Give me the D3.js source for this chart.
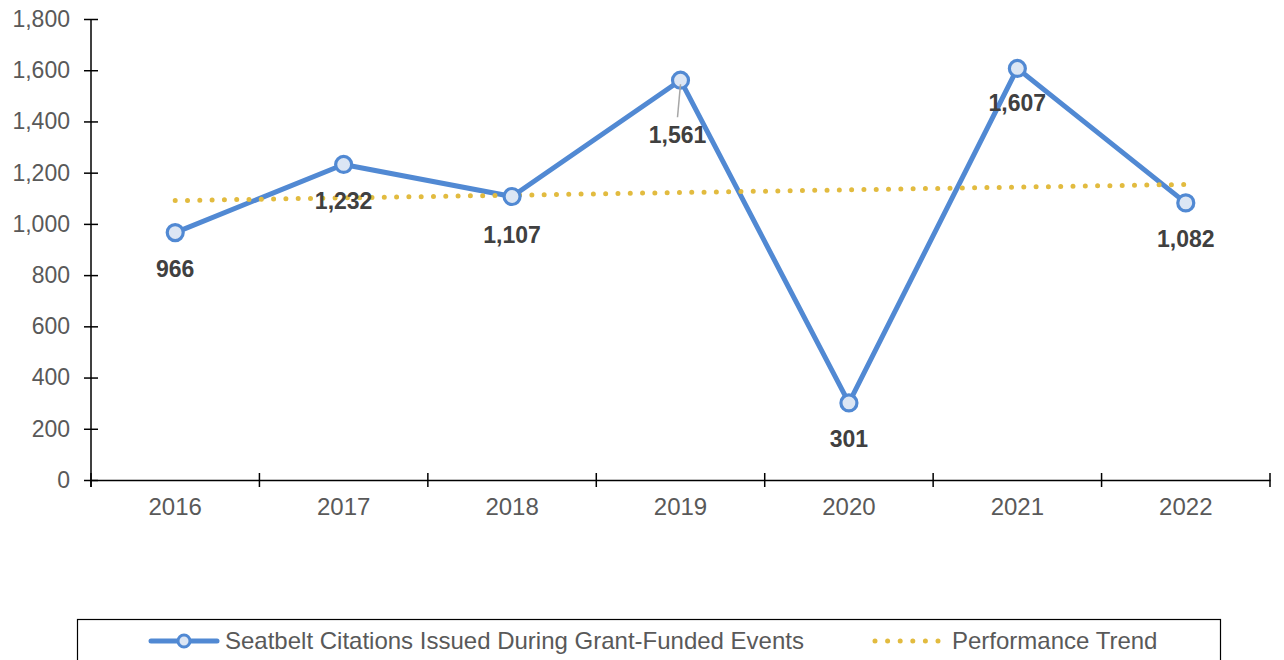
<!DOCTYPE html>
<html>
<head>
<meta charset="utf-8">
<script src="https://cdn.jsdelivr.net/npm/d3@7"></script>
<style>
  body { margin: 0; background: #fff; }
  svg { font-family: "Liberation Sans", Arial, sans-serif; }
</style>
</head>
<body>
<svg id="chart" width="1284" height="660"></svg>
<script>
var years = ["2016", "2017", "2018", "2019", "2020", "2021", "2022"];
var citations = [966, 1232, 1107, 1561, 301, 1607, 1082];
var trendEnds = [1091, 1154];
var yTicks = [0, 200, 400, 600, 800, 1000, 1200, 1400, 1600, 1800];
var seriesName = "Seatbelt Citations Issued During Grant-Funded Events";
var trendName = "Performance Trend";

var svg = d3.select("#chart"),
    margin = {top: 19, left: 91},
    width = 1270 - 91,
    height = 480 - 19,
    g = svg.append("g").attr("transform", "translate(" + margin.left + "," + margin.top + ")");

var blue = "#5189d3", fillBlue = "#dce6f4", gold = "#e2bb3f", grey = "#595959";

var x = d3.scaleBand().domain(years).range([0, width]);
var y = d3.scaleLinear().domain([0, 1800]).range([height, 0]);
var cx = function(i) { return x(years[i]) + x.bandwidth() / 2; };

// axes, ticks crossing the line
var yAxis = g.append("g")
    .call(d3.axisLeft(y).tickValues(yTicks).tickSize(7).tickPadding(14).tickFormat(d3.format(",")));
yAxis.selectAll(".tick line").attr("x2", 7).attr("x1", -7);
var xAxis = g.append("g")
    .attr("transform", "translate(0," + height + ")")
    .call(d3.axisBottom(x).tickSize(0).tickPadding(18));
xAxis.selectAll(".tick line").remove();
xAxis.selectAll(".xb").data(d3.range(years.length + 1)).enter().append("line")
    .attr("x1", function(i) { return i * x.bandwidth(); })
    .attr("x2", function(i) { return i * x.bandwidth(); })
    .attr("y1", -7).attr("y2", 7)
    .attr("stroke", "#000").attr("stroke-width", 1.5);
g.selectAll(".domain").attr("stroke", "#000").attr("stroke-width", 1.5);
g.selectAll(".tick line").attr("stroke", "#000").attr("stroke-width", 1.5);
g.selectAll(".tick text").attr("fill", grey)
    .attr("font-family", "Liberation Sans, Arial, sans-serif");
yAxis.selectAll(".tick text").attr("font-size", 23);
xAxis.selectAll(".tick text").attr("font-size", 24);
yAxis.select(".domain").attr("d", "M0," + (height + 7) + "V0");

// data series
var line = d3.line()
    .x(function(d, i) { return cx(i); })
    .y(function(d) { return y(d); });

g.append("path")
    .datum(citations)
    .attr("fill", "none")
    .attr("stroke", blue)
    .attr("stroke-width", 5)
    .attr("stroke-linejoin", "round")
    .attr("d", line);

// trend line
g.append("line")
    .attr("x1", cx(0)).attr("y1", y(trendEnds[0]))
    .attr("x2", cx(years.length - 1)).attr("y2", y(trendEnds[1]))
    .attr("stroke", gold)
    .attr("stroke-width", 5)
    .attr("stroke-linecap", "round")
    .attr("stroke-dasharray", "0,12.3");

g.selectAll(".pt").data(citations).enter().append("circle")
    .attr("cx", function(d, i) { return cx(i); })
    .attr("cy", function(d) { return y(d); })
    .attr("r", 8)
    .attr("fill", fillBlue)
    .attr("stroke", blue)
    .attr("stroke-width", 3.2);

// leader line for 2019
g.append("line")
    .attr("x1", cx(3)).attr("y1", y(citations[3]) + 4)
    .attr("x2", cx(3) - 3).attr("y2", y(citations[3]) + 37)
    .attr("stroke", "#a6a6a6").attr("stroke-width", 1.5);

var labelOffset = [36, 36, 38, 55, 36, 35, 36];
g.selectAll(".lbl").data(citations).enter().append("text")
    .attr("x", function(d, i) { return cx(i) + (i === 3 ? -3 : 0); })
    .attr("y", function(d, i) { return y(d) + labelOffset[i]; })
    .attr("dy", "0.35em")
    .attr("text-anchor", "middle")
    .attr("font-size", 23)
    .attr("font-weight", "bold")
    .attr("fill", "#404040")
    .text(d3.format(","));

// legend
var lg = svg.append("g");
lg.append("rect")
    .attr("x", 77.5).attr("y", 619.5).attr("width", 1143).attr("height", 60)
    .attr("fill", "none").attr("stroke", "#000").attr("stroke-width", 1.2);
lg.append("line").attr("x1", 151).attr("x2", 217).attr("y1", 641).attr("y2", 641)
    .attr("stroke", blue).attr("stroke-width", 5).attr("stroke-linecap", "round");
lg.append("circle").attr("cx", 184).attr("cy", 641).attr("r", 6)
    .attr("fill", fillBlue).attr("stroke", blue).attr("stroke-width", 3);
lg.append("text").attr("x", 225).attr("y", 641).attr("dy", "0.35em")
    .attr("font-size", 24).attr("fill", grey).text(seriesName);
lg.append("line").attr("x1", 875).attr("x2", 940).attr("y1", 641).attr("y2", 641)
    .attr("stroke", gold).attr("stroke-width", 5).attr("stroke-linecap", "round")
    .attr("stroke-dasharray", "0,12.6");
lg.append("text").attr("x", 952).attr("y", 641).attr("dy", "0.35em")
    .attr("font-size", 24).attr("fill", grey).text(trendName);
</script>
</body>
</html>
